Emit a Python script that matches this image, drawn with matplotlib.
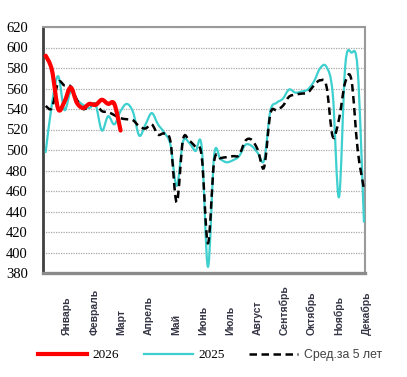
import numpy as np
import matplotlib
matplotlib.use("Agg")
import matplotlib.pyplot as plt
from matplotlib.path import Path
from matplotlib.patches import PathPatch
from matplotlib.lines import Line2D

months = ["Январь", "Февраль", "Март", "Апрель", "Май", "Июнь", "Июль",
          "Август", "Сентябрь", "Октябрь", "Ноябрь", "Декабрь"]
yticks = [380, 400, 420, 440, 460, 480, 500, 520, 540, 560, 580, 600, 620]

y2026 = [592, 578, 540, 547, 561, 546, 541, 545, 544, 549, 545, 545, 519]

y2025 = [498, 545, 572, 539, 557, 549, 544, 541, 544, 519, 533, 525, 538,
         545, 537, 514, 525, 536, 525, 517, 505, 465, 508, 507, 499, 503,
         386, 495, 491, 488, 490, 494, 505, 504, 497, 490, 538, 546, 550,
         559, 556, 557, 559, 567, 580, 581, 555, 454, 582, 595, 578, 430]

yavg = [543, 541, 566, 563, 562, 549, 540, 543, 545, 538, 537, 534, 531,
        530, 529, 523, 521, 525, 515, 516, 508, 449, 510, 509, 503, 494,
        409, 489, 492, 493, 494, 495, 509, 510, 500, 483, 535, 539, 543,
        552, 554, 555, 556, 563, 568, 562, 513, 530, 566, 568, 500, 462]


def smooth_path(xs, ys):
    pts = np.column_stack([xs, ys]).astype(float)
    n = len(pts)
    verts = [pts[0]]
    codes = [Path.MOVETO]
    for i in range(n - 1):
        p0 = pts[i - 1] if i > 0 else pts[i]
        p1 = pts[i]
        p2 = pts[i + 1]
        p3 = pts[i + 2] if i + 2 < n else pts[i + 1]
        c1 = p1 + (p2 - p0) / 6.0
        c2 = p2 - (p3 - p1) / 6.0
        verts += [c1, c2, p2]
        codes += [Path.CURVE4] * 3
    return Path(verts, codes)


fig = plt.figure(figsize=(4.07, 3.77), dpi=100)
ax = fig.add_axes([43 / 407, 1 - 273 / 377, 322 / 407, 246 / 377])

c_red = "#ff0000"
c_cyan = "#3ecfcf"

w25 = np.arange(1, len(y2025) + 1)
wav = np.arange(1, len(yavg) + 1)
w26 = np.arange(1, len(y2026) + 1)

ax.add_patch(PathPatch(smooth_path(w25, y2025), fill=False, edgecolor=c_cyan,
                       lw=1.6, capstyle="round", joinstyle="round", zorder=3))
ax.add_patch(PathPatch(smooth_path(wav, yavg), fill=False, edgecolor="black",
                       lw=1.8, linestyle=(0, (3, 1.8)), zorder=4))
ax.add_patch(PathPatch(smooth_path(w26, y2026), fill=False, edgecolor=c_red,
                       lw=3.0, capstyle="round", joinstyle="round", zorder=5))

ax.set_xlim(0.57, 52.17)
ax.set_ylim(380, 620)
ax.set_yticks(yticks)
ax.set_yticklabels([str(v) for v in yticks], fontfamily="Liberation Serif",
                   fontsize=10.5)
ax.tick_params(axis="y", length=0, pad=11)
ax.set_xticks([])
ax.grid(axis="y", color="#a8a8a8", linestyle=(0, (1, 1)), lw=0.9)
ax.set_axisbelow(True)

ax.spines["left"].set_color("#404040")
ax.spines["left"].set_linewidth(2.0)
ax.spines["bottom"].set_color("#8a8a8a")
ax.spines["bottom"].set_linewidth(2.4)
ax.spines["top"].set_color("#9a9a9a")
ax.spines["top"].set_linewidth(1.5)
ax.spines["right"].set_color("#9a9a9a")
ax.spines["right"].set_linewidth(1.5)

label_pos = 4.41 + 4.36 * np.arange(len(months))
for xp, m in zip(label_pos, months):
    ax.text(xp, -0.252, m, transform=ax.get_xaxis_transform(), rotation=90,
            ha="center", va="bottom", fontsize=7.5, color="#353545",
            fontfamily="Liberation Sans", fontweight="semibold", clip_on=False)

handles = [Line2D([], [], color=c_red, lw=3.0),
           Line2D([], [], color=c_cyan, lw=1.6),
           Line2D([], [], color="black", lw=1.8, linestyle=(0, (3, 1.8)))]
leg = fig.legend(handles, ["2026", "2025", "Сред.за 5 лет"], ncol=3,
                 loc="center", bbox_to_anchor=(210 / 407, 1 - 355 / 377),
                 frameon=False, handlelength=3.7, columnspacing=1.9,
                 handletextpad=0.4, prop={"family": "Liberation Serif", "size": 9.5})
t = leg.get_texts()
t[2].set_fontfamily("Liberation Sans")
t[2].set_fontsize(8.8)
t[2].set_color("#404040")

fig.savefig("out.png", dpi=100)
